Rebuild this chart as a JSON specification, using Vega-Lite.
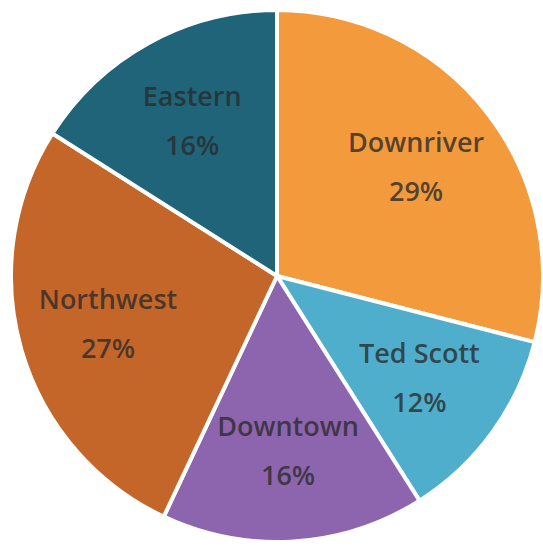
{
  "$schema": "https://vega.github.io/schema/vega-lite/v6.json",
  "autosize": {"type": "fit", "contains": "padding"},
  "width": 543,
  "height": 549,
  "padding": {"left": 11, "top": 3, "right": 0, "bottom": 0},
  "background": "white",
  "data": {"values": [
    {"region": "Downriver", "share": 29, "pct": "29%", "idx": 1},
    {"region": "Ted Scott", "share": 12, "pct": "12%", "idx": 2},
    {"region": "Downtown", "share": 16, "pct": "16%", "idx": 3},
    {"region": "Northwest", "share": 27, "pct": "27%", "idx": 4},
    {"region": "Eastern", "share": 16, "pct": "16%", "idx": 5}
  ]},
  "encoding": {
    "theta": {"field": "share", "type": "quantitative", "stack": true},
    "order": {"field": "idx", "type": "quantitative"},
    "color": {
      "field": "region", "type": "nominal", "legend": null,
      "scale": {
        "domain": ["Downriver", "Ted Scott", "Downtown", "Northwest", "Eastern"],
        "range": ["#F39A3D", "#4FAECB", "#8D65AE", "#C4662A", "#1F6478"]
      }
    }
  },
  "layer": [
    {"mark": {"type": "arc", "outerRadius": 266, "stroke": "white", "strokeWidth": 4}},
    {"mark": {"type": "text", "radius": 176, "dy": -24, "font": "Open Sans", "fontWeight": 600, "fontSize": 27, "fill": "#2a2a2a", "fillOpacity": 0.78},
     "encoding": {"text": {"field": "region"}, "color": {"value": "#2a2a2a"}}},
    {"mark": {"type": "text", "radius": 176, "dy": 25, "font": "Open Sans", "fontWeight": 600, "fontSize": 27, "fill": "#2a2a2a", "fillOpacity": 0.78},
     "encoding": {"text": {"field": "pct"}, "color": {"value": "#2a2a2a"}}}
  ]
}
